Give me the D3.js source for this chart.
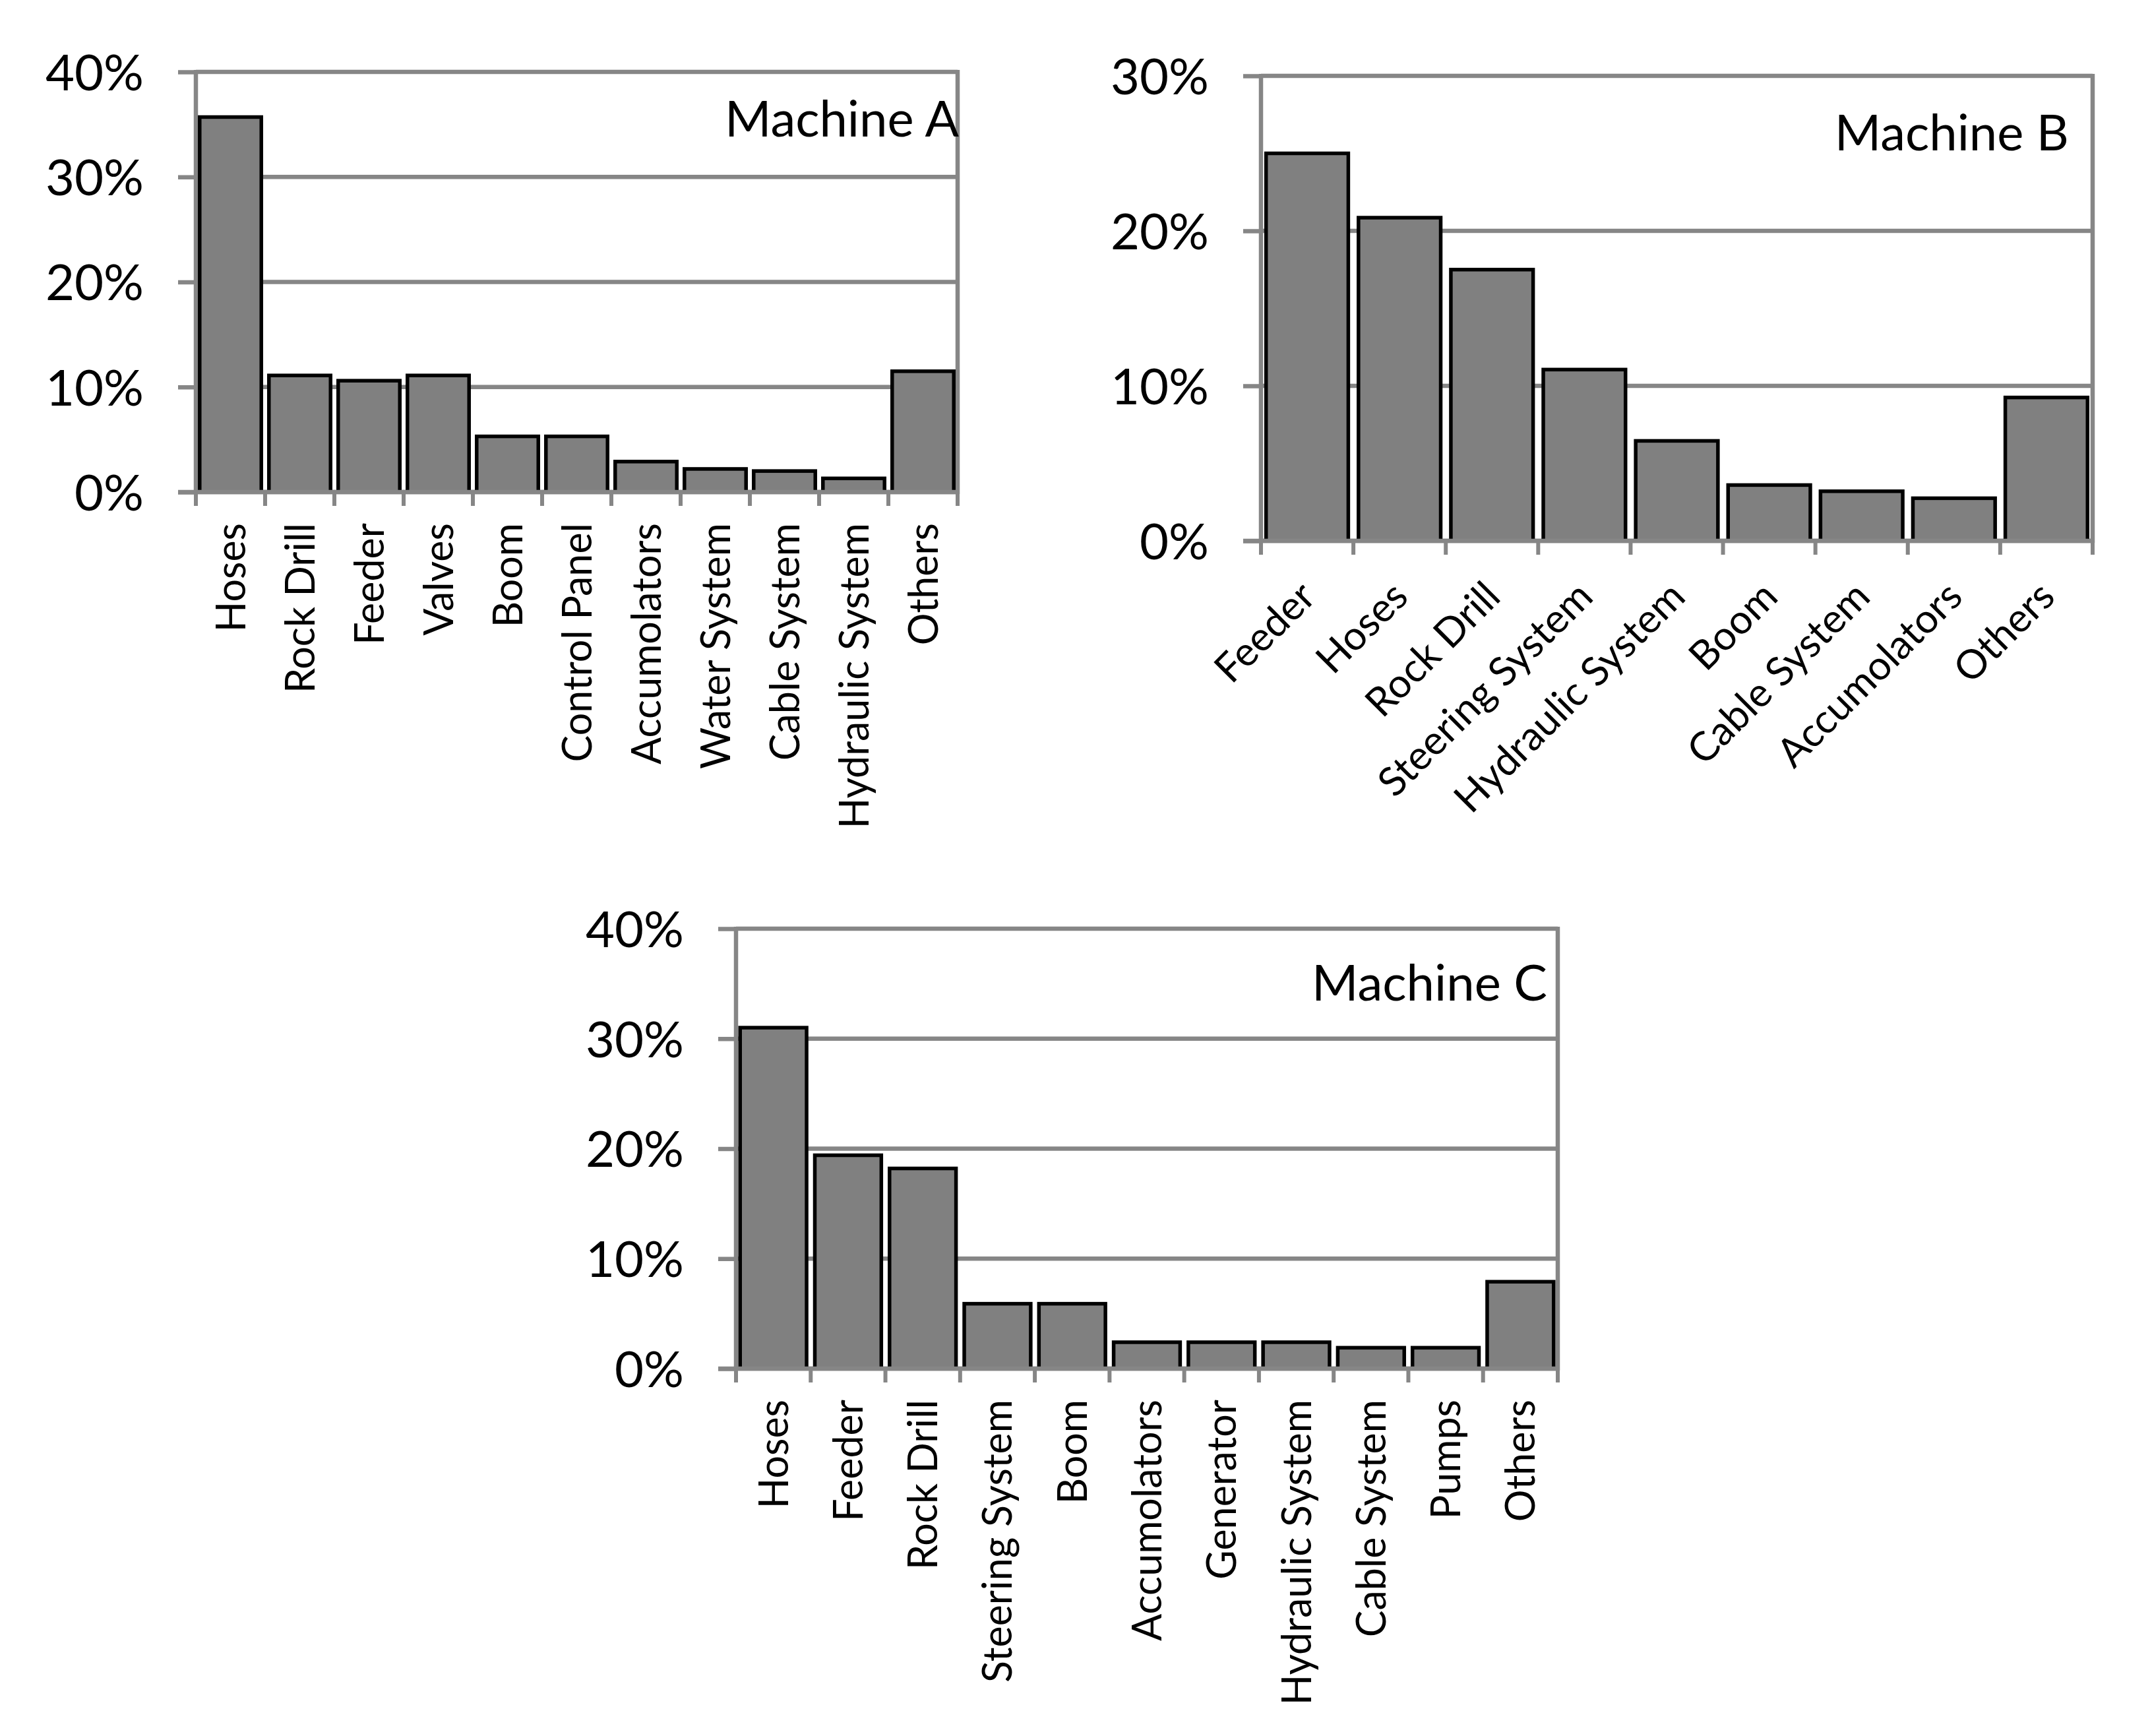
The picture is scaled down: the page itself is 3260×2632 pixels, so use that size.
<!DOCTYPE html>
<html>
<head>
<meta charset="utf-8">
<script src="https://cdn.jsdelivr.net/npm/d3@7"></script>
<style>
  html, body { margin: 0; padding: 0; background: #ffffff; }
  svg { display: block; }
  text { font-family: Lato, "Open Sans", sans-serif; fill: #000; }
</style>
</head>
<body>
<svg id="chart" width="3260" height="2632"></svg>
<script>
// ---- Data ----
const catsA = ["Hoses", "Rock Drill", "Feeder", "Valves", "Boom", "Control Panel", "Accumolators", "Water System", "Cable System", "Hydraulic System", "Others"];
const valsA = [35.7, 11.1, 10.6, 11.1, 5.3, 5.3, 2.9, 2.2, 2.0, 1.3, 11.5];
const ticksA = [0, 10, 20, 30, 40];

const catsB = ["Feeder", "Hoses", "Rock Drill", "Steering System", "Hydraulic System", "Boom", "Cable System", "Accumolators", "Others"];
const valsB = [25.0, 20.85, 17.5, 11.05, 6.45, 3.6, 3.2, 2.75, 9.25];
const ticksB = [0, 10, 20, 30];

const catsC = ["Hoses", "Feeder", "Rock Drill", "Steering System", "Boom", "Accumolators", "Generator", "Hydraulic System", "Cable System", "Pumps", "Others"];
const valsC = [31.0, 19.4, 18.2, 5.9, 5.9, 2.4, 2.4, 2.4, 1.9, 1.9, 7.9];
const ticksC = [0, 10, 20, 30, 40];

const titles = ["Machine A", "Machine B", "Machine C"];

// ---- Layout ----
const panels = [
  { cats: catsA, vals: valsA, ticks: ticksA, title: titles[0],
    left: 297, right: 1452, top: 109, bottom: 746, rot: -90,
    titleRight: 1454, titleBase: 207 },
  { cats: catsB, vals: valsB, ticks: ticksB, title: titles[1],
    left: 1912, right: 3173, top: 115, bottom: 820, rot: -45,
    titleRight: 3137, titleBase: 228 },
  { cats: catsC, vals: valsC, ticks: ticksC, title: titles[2],
    left: 1116, right: 2362, top: 1408, bottom: 2075, rot: -90,
    titleRight: 2346, titleBase: 1517 }
];

const GRID = "#868686";
const svg = d3.select("#chart");

panels.forEach(p => {
  const g = svg.append("g");
  const x = d3.scaleBand().domain(p.cats).range([p.left, p.right]);
  const y = d3.scaleLinear().domain([0, d3.max(p.ticks)]).range([p.bottom, p.top]);

  // gridlines
  g.selectAll("line.grid").data(p.ticks).join("line")
    .attr("x1", p.left).attr("x2", p.right)
    .attr("y1", d => y(d)).attr("y2", d => y(d))
    .attr("stroke", GRID).attr("stroke-width", 6.5);

  // right border
  g.append("line")
    .attr("x1", p.right).attr("x2", p.right)
    .attr("y1", p.top - 3).attr("y2", p.bottom + 3)
    .attr("stroke", GRID).attr("stroke-width", 6.5);

  // y axis
  const yAxis = d3.axisLeft(y).tickValues(p.ticks).tickFormat(d => d + "%")
    .tickSize(27).tickPadding(52);
  const ya = g.append("g").attr("transform", `translate(${p.left},0)`).call(yAxis);
  ya.select(".domain").attr("stroke", GRID).attr("stroke-width", 6.5)
    .attr("d", `M0,${p.top - 3}V${p.bottom + 3}`);
  ya.selectAll(".tick line").attr("stroke", GRID).attr("stroke-width", 6.5);
  ya.selectAll(".tick text")
    .attr("font-family", "Lato, sans-serif")
    .attr("font-size", 76).attr("fill", "#000")
    .attr("dy", "0.36em");

  // x axis ticks at band boundaries
  const bounds = p.cats.map(c => x(c)).concat([p.right]);
  g.selectAll("line.xt").data(bounds).join("line")
    .attr("x1", d => d).attr("x2", d => d)
    .attr("y1", p.bottom).attr("y2", p.bottom + 21)
    .attr("stroke", GRID).attr("stroke-width", 6);

  // bars
  const bw = x.bandwidth() * 0.89;
  g.selectAll("rect.bar").data(p.vals).join("rect")
    .attr("x", (d, i) => x(p.cats[i]) + (x.bandwidth() - bw) / 2)
    .attr("y", d => y(d))
    .attr("width", bw)
    .attr("height", d => p.bottom - y(d))
    .attr("fill", "#808080")
    .attr("stroke", "#000").attr("stroke-width", 5.5);

  // baseline axis redrawn on top
  g.append("line")
    .attr("x1", p.left - 27).attr("x2", p.right + 3)
    .attr("y1", p.bottom).attr("y2", p.bottom)
    .attr("stroke", GRID).attr("stroke-width", 6.5);

  // category labels
  const lab = g.selectAll("text.cat").data(p.cats).join("text")
    .attr("font-size", 61)
    .attr("text-anchor", "end");
  if (p.rot === -90) {
    lab.attr("transform", c => `translate(${x(c) + x.bandwidth() / 2 + 22},${p.bottom + 47}) rotate(-90)`);
  } else {
    lab.attr("transform", c => `translate(${x(c) + x.bandwidth() / 2 + 16},${p.bottom + 88}) rotate(-45)`);
  }
  lab.text(c => c);

  // title
  g.append("text")
    .attr("x", p.titleRight).attr("y", p.titleBase)
    .attr("text-anchor", "end")
    .attr("font-size", 76)
    .text(p.title);
});
</script>
</body>
</html>
